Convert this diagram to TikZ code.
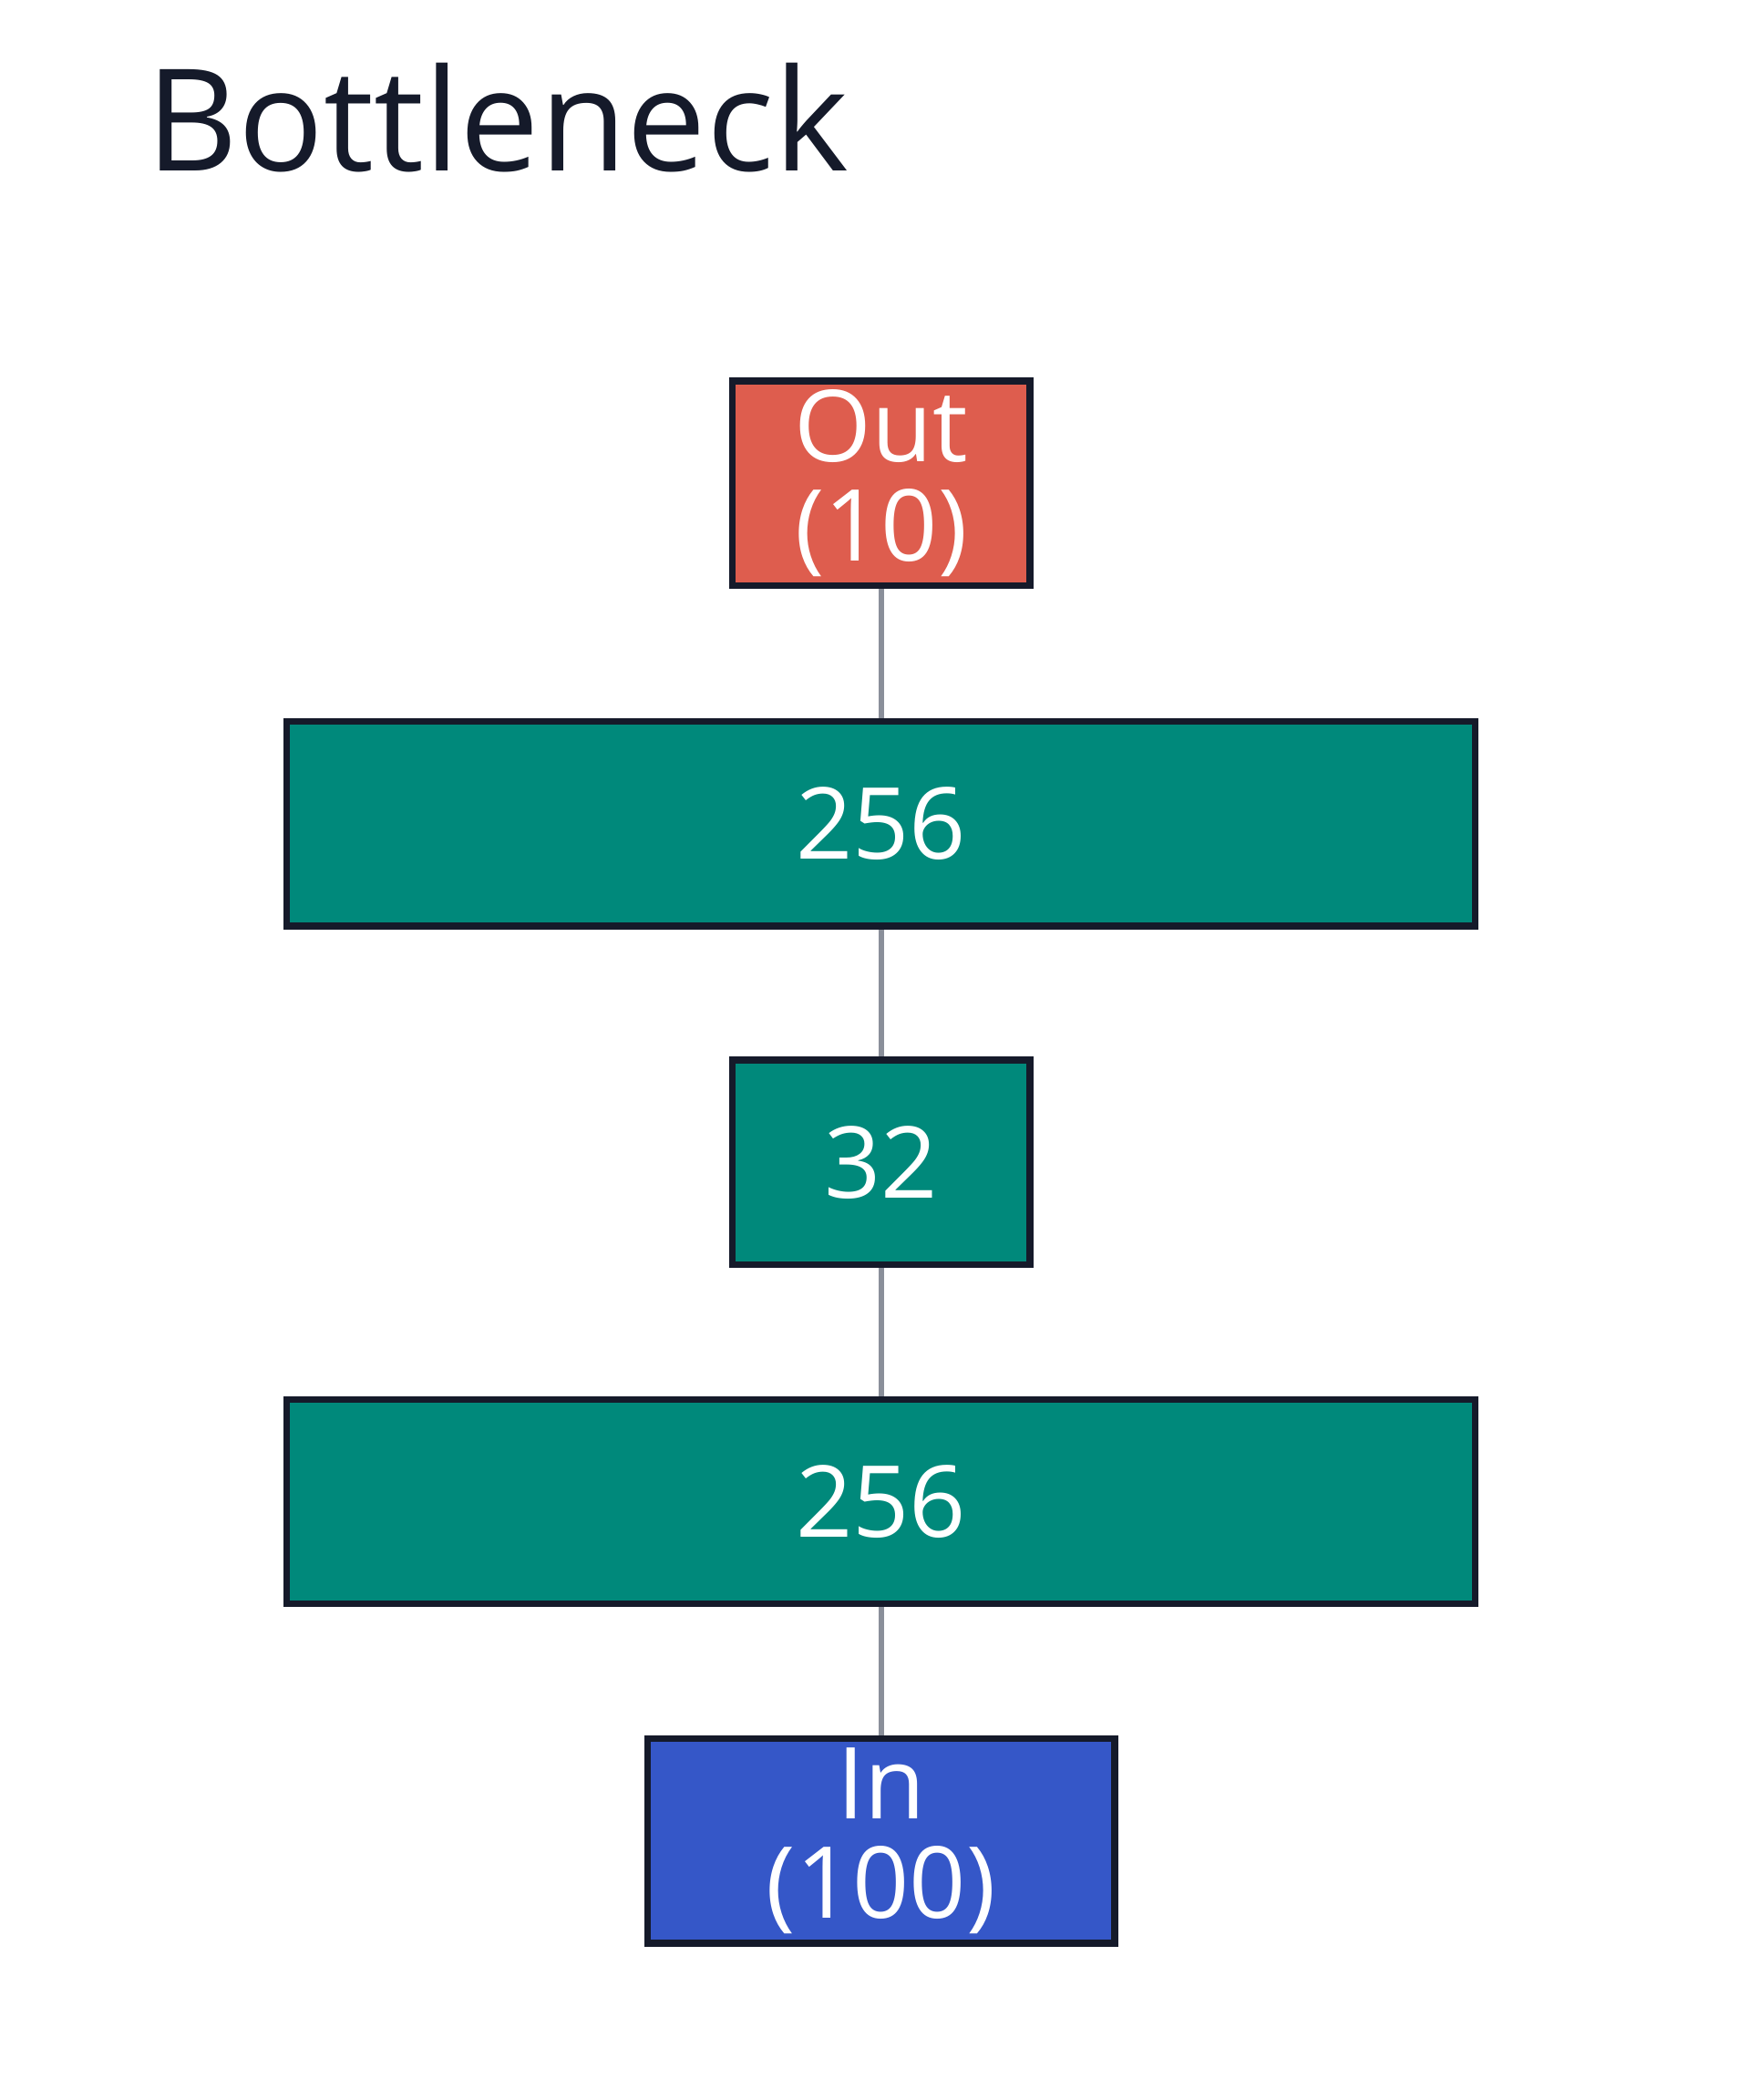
\documentclass[tikz,border=0pt]{standalone}
\usepackage{fontspec}
\setmainfont{Open Sans}
\usetikzlibrary{positioning}
\definecolor{outred}{HTML}{DE5D4E}
\definecolor{hidteal}{HTML}{00897B}
\definecolor{inblue}{HTML}{3557C8}
\definecolor{edgedark}{HTML}{151A2A}
\definecolor{linkgray}{HTML}{8A8F9A}
\tikzset{
  layer/.style={draw=edgedark, line width=1.4pt, text=white, align=center,
    minimum height=1.52cm, inner sep=0pt, font=\fontsize{21}{24}\selectfont},
  link/.style={draw=linkgray, line width=1.2pt}
}
\begin{document}
\begin{tikzpicture}
    % canvas
    \useasboundingbox (0,0) rectangle (13,-15.6);
    \node [anchor=base west, font=\fontsize{30}{34}\selectfont, text=edgedark, inner sep=0pt] (title) at (1.08,-1.27) {Bottleneck};
    % layers
    \node [layer, fill=outred, minimum width=2.21cm] (out) at (6.545,-3.59) {Out\\[-3pt](10)};
    \node [layer, fill=hidteal, minimum width=8.83cm] (hidb) at (6.545,-6.12) {256};
    \node [layer, fill=hidteal, minimum width=2.21cm] (code) at (6.545,-8.635) {32};
    \node [layer, fill=hidteal, minimum width=8.83cm] (hida) at (6.545,-11.155) {256};
    \node [layer, fill=inblue, minimum width=3.47cm] (in) at (6.545,-13.675) {In\\[-3pt](100)};
    % links
    \draw [link] (in) -- (hida);
    \draw [link] (hida) -- (code);
    \draw [link] (code) -- (hidb);
    \draw [link] (hidb) -- (out);
\end{tikzpicture}
\end{document}
